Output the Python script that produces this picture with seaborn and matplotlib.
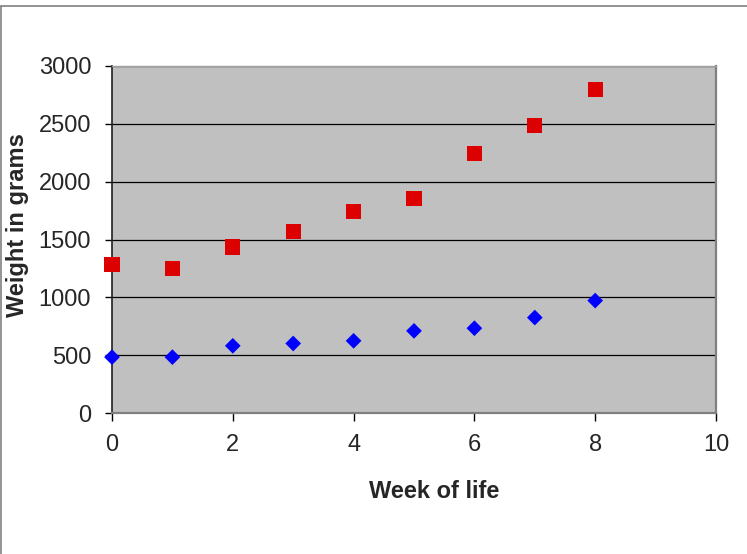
import matplotlib
matplotlib.use("Agg")
import matplotlib.pyplot as plt
from matplotlib.lines import Line2D
import seaborn as sns
import pandas as pd

# Weekly body weight (grams) for two groups
weeks = [0, 1, 2, 3, 4, 5, 6, 7, 8]
heavy_group = [1280, 1248, 1435, 1570, 1740, 1858, 2240, 2485, 2798]
light_group = [483, 483, 581, 601, 624, 710, 733, 825, 972]

y_ticks = [0, 500, 1000, 1500, 2000, 2500, 3000]
x_ticks = [0, 2, 4, 6, 8, 10]

sns.set_style("white")
plt.rcParams["font.family"] = ["Liberation Sans", "DejaVu Sans"]

df = pd.DataFrame({
    "week": weeks * 2,
    "weight": heavy_group + light_group,
    "group": ["heavy"] * len(weeks) + ["light"] * len(weeks),
})

fig = plt.figure(figsize=(7.47, 5.54), dpi=100)
ax = fig.add_axes([112 / 747, 1 - 413 / 554, (716 - 112) / 747, (413 - 66) / 554])
ax.set_facecolor("#C0C0C0")

ax.set_xlim(0, 10)
ax.set_ylim(0, 3000)
ax.set_yticks(y_ticks)
ax.set_xticks(x_ticks)
ax.yaxis.grid(True, color="black", linewidth=0.9)
ax.set_axisbelow(True)

sns.scatterplot(data=df[df.group == "heavy"], x="week", y="weight", ax=ax,
                marker="s", s=118, color="#DD0000", edgecolor="none",
                clip_on=False, zorder=3, legend=False)
sns.scatterplot(data=df[df.group == "light"], x="week", y="weight", ax=ax,
                marker="D", s=64, color="#0000FF", edgecolor="none",
                clip_on=False, zorder=3, legend=False)

for side in ["top", "right", "bottom"]:
    ax.spines[side].set_color("#808080")
    ax.spines[side].set_linewidth(1.6)
ax.spines["top"].set_color("#A0A0A0")
ax.spines["top"].set_linewidth(1.0)
ax.spines["left"].set_color("#202020")
ax.spines["left"].set_linewidth(1.2)

ax.tick_params(axis="y", direction="out", length=5, width=1, color="black",
               labelsize=17, pad=10, left=True)
ax.tick_params(axis="x", direction="out", length=6, width=1, color="black",
               labelsize=17, pad=9, bottom=True)

ax.set_xlabel("")
ax.set_ylabel("")
fig.text(434 / 747, 1 - 492 / 554, "Week of life", ha="center", va="center",
         fontsize=17, fontweight="bold")
fig.text(18 / 747, 1 - 225 / 554, "Weight in grams", ha="center", va="center",
         rotation=90, fontsize=17, fontweight="bold")

# Chart-area frame along the top and left edges
fig.add_artist(Line2D([1.5 / 747, 1.0], [1 - 5.5 / 554, 1 - 5.5 / 554],
                      transform=fig.transFigure, color="#808080", linewidth=1.2))
fig.add_artist(Line2D([1.5 / 747, 1.5 / 747], [0, 1 - 5.5 / 554],
                      transform=fig.transFigure, color="#808080", linewidth=1.2))

fig.savefig("out.png", dpi=100, facecolor="white")
